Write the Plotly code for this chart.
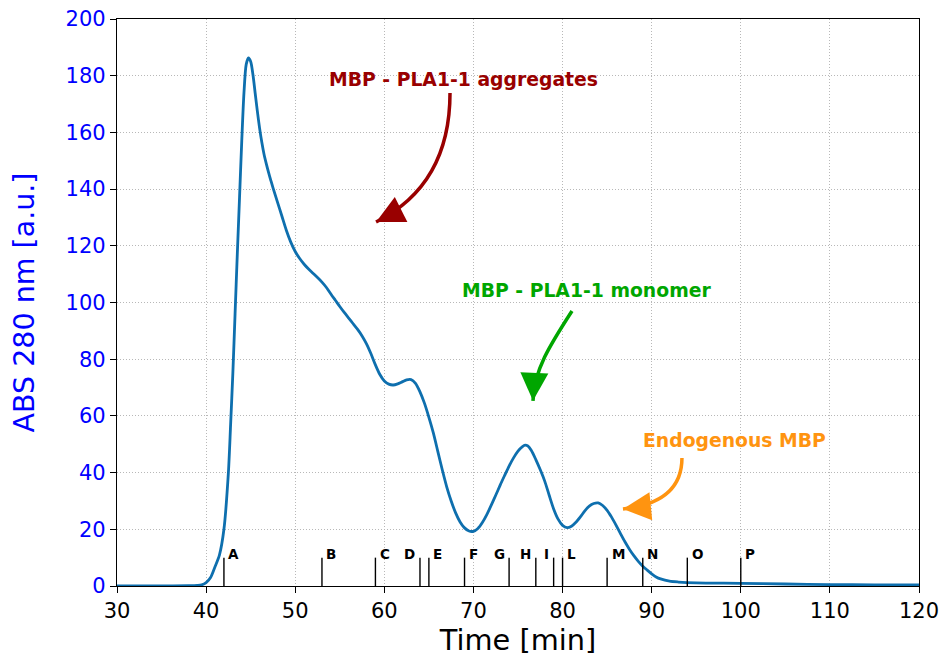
import plotly.graph_objects as go

# --- Chromatogram data ---
time_min = [30, 35, 38, 39.0, 39.5, 40.0, 40.5, 41.0, 41.5, 42.0, 42.5, 42.75, 43.0,
            43.25, 43.5, 43.75, 44.0, 44.25, 44.5, 44.75, 45.0, 45.25, 45.5, 45.75, 46.0,
            46.25, 46.5, 46.75, 47.0, 47.25, 47.5, 48.0, 48.5, 49.0, 49.5, 50.0, 50.5,
            51.0, 51.5, 52.0,
            52.5, 53.0, 53.5, 54.0, 54.5, 55.0, 55.5, 56.0, 56.5, 57.0, 57.5, 58.0,
            58.5, 59.0, 59.5, 60.0, 60.5, 61.0, 61.5, 62.0, 62.5, 63.0, 63.5, 64.0,
            64.5, 65.0, 65.5, 66.0, 66.5, 67.0, 67.5, 68.0, 68.5, 69.0, 69.5, 70.0,
            70.5, 71.0, 71.5, 72.0, 72.5, 73.0, 73.5, 74.0, 74.5, 75.0, 75.5, 75.8,
            76.1, 76.5, 77.0, 77.5, 78.0, 78.5, 79.0, 79.5, 80.0, 80.5, 81.0, 81.5, 82.0,
            82.5, 83.0, 83.5, 84.0, 84.5, 85.0, 85.5, 86.0, 86.5, 87.0, 87.5, 88.0,
            88.5, 89.0, 89.5, 90.0, 90.5, 91.0, 92.0, 93.0, 95.0, 100, 105, 110, 115, 120]
abs_280 = [0.0, 0.0, 0.1, 0.2, 0.4, 1.2, 3.0, 6.8, 11.0, 20.0, 40.0, 57.0, 75.0,
           96.0, 117, 137, 157, 174, 184, 186.3, 185, 180.5, 174, 167.5, 161.5,
           156.5, 152.3, 149, 146, 143.2, 140.5, 135.5, 130.5, 125.5, 121.3, 118, 115.5,
           113.5, 111.8, 110.3,
           108.8, 107.2, 105.3, 103, 100.8, 98.6, 96.5, 94.5, 92.5, 90.5, 88.2, 85.4,
           81.9, 78.0, 74.6, 72.3, 71.2, 70.9, 71.3, 72.0, 72.7, 72.8, 71.5, 68.5,
           64.5, 59.5, 54.0, 47.5, 41.0, 35.0, 30.0, 25.8, 22.6, 20.5, 19.4, 19.3,
           20.3, 22.4, 25.2, 28.5, 32.0, 35.6, 39.0, 42.3, 45.2, 47.6, 49.2, 49.7,
           49.4, 47.8, 44.6, 41.0, 37.0, 32.0, 27.2, 23.6, 21.4, 20.6, 21.1, 22.5, 24.4,
           26.5, 28.2, 29.1, 29.3, 28.4, 26.7, 24.3, 21.5, 18.5, 15.6, 13.0, 10.7,
           8.7, 7.0, 5.6, 4.3, 3.2, 2.5, 1.7, 1.4, 1.1, 0.95, 0.7, 0.5, 0.4, 0.35]

# --- Fraction markers ---
fraction_labels = ["A", "B", "C", "D", "E", "F", "G", "H", "I", "L", "M", "N", "O", "P"]
fraction_times = [42, 53, 59, 64, 65, 69, 74, 77, 79, 80, 85, 89, 94, 100]
labels_left_of_line = {"D", "G", "H", "I"}
fraction_height = 10
fraction_label_y = 11.4

x_ticks = [30, 40, 50, 60, 70, 80, 90, 100, 110, 120]
y_ticks = [0, 20, 40, 60, 80, 100, 120, 140, 160, 180, 200]

# --- Annotations: text, colour, text position, arrow path (cubic) ---
notes = [
    dict(text="MBP - PLA1-1 aggregates", color="#990000", tx=68.83, ty=178.8,
         path=[(67.37, 173.9), (67.37, 150.3), (64.0, 136.2), (59.07, 128.4)], ax=18, ay=-9),
    dict(text="MBP - PLA1-1 monomer", color="#00A600", tx=82.74, ty=104.1,
         path=[(81.06, 97.0), (78.59, 85.0), (76.80, 76.2), (76.68, 65.3)], ax=1, ay=-20),
    dict(text="Endogenous MBP", color="#FF9410", tx=99.3, ty=51.5,
         path=[(93.40, 45.15), (93.40, 33.86), (90.94, 28.57), (86.78, 27.16)], ax=20, ay=-2),
]

FONT = "DejaVu Sans"
LINE_COLOR = "#0E6FAE"

fig = go.Figure()

fig.add_trace(go.Scatter(
    x=time_min, y=abs_280, mode="lines",
    line=dict(color=LINE_COLOR, width=2.8, shape="spline", smoothing=0.8),
    showlegend=False, hoverinfo="skip"))

# fraction marker lines
fx, fy = [], []
for t in fraction_times:
    fx += [t, t, None]
    fy += [0, fraction_height, None]
fig.add_trace(go.Scatter(x=fx, y=fy, mode="lines",
                         line=dict(color="black", width=1.4),
                         showlegend=False, hoverinfo="skip"))

annotations = []
for lab, t in zip(fraction_labels, fraction_times):
    left = lab in labels_left_of_line
    annotations.append(dict(x=t, y=fraction_label_y, text=f"<b>{lab}</b>",
                            showarrow=False, xanchor="right" if left else "left",
                            yanchor="middle", xshift=-2.5 if left else 2.5,
                            font=dict(family=FONT, size=13.5, color="black")))

shapes = []
for n in notes:
    p = n["path"]
    path = "M {} {} C {} {}, {} {}, {} {}".format(p[0][0], p[0][1], p[1][0], p[1][1],
                                                  p[2][0], p[2][1], p[3][0], p[3][1])
    shapes.append(dict(type="path", xref="x", yref="y", path=path,
                       line=dict(color=n["color"], width=3.5)))
    annotations.append(dict(x=p[3][0], y=p[3][1], ax=n["ax"], ay=n["ay"],
                            axref="pixel", ayref="pixel", text="", showarrow=True,
                            arrowhead=2, arrowsize=1.6, arrowwidth=3.5,
                            arrowcolor=n["color"]))
    annotations.append(dict(x=n["tx"], y=n["ty"], text=f"<b>{n['text']}</b>",
                            showarrow=False, xanchor="center", yanchor="middle",
                            font=dict(family=FONT, size=18.8, color=n["color"])))

fig.update_layout(
    width=944, height=657,
    margin=dict(l=117, r=25, t=19, b=71),
    plot_bgcolor="white", paper_bgcolor="white",
    font=dict(family=FONT),
    shapes=shapes, annotations=annotations,
    showlegend=False,
)
GRID = dict(showgrid=True, gridcolor="#b8b8b8", griddash="1px,2px", gridwidth=1, zeroline=False)
fig.update_xaxes(
    range=[30, 120], tickvals=x_ticks, ticks="outside", ticklen=6, tickcolor="black",
    tickfont=dict(family=FONT, size=21, color="black"), automargin=False,
    showline=True, linecolor="black", linewidth=1.3, mirror=True, **GRID,
    title=dict(text="Time [min]", font=dict(family=FONT, size=28.8, color="black"), standoff=8),
)
fig.update_yaxes(
    range=[0, 200], tickvals=y_ticks, ticks="outside", ticklen=6, tickcolor="black",
    tickfont=dict(family=FONT, size=21, color="blue"), automargin=False,
    showline=True, linecolor="black", linewidth=1.3, mirror=True, **GRID,
    title=dict(text="ABS 280 nm [a.u.]", font=dict(family=FONT, size=28.5, color="blue"), standoff=22),
)

fig.write_html("out.html")
